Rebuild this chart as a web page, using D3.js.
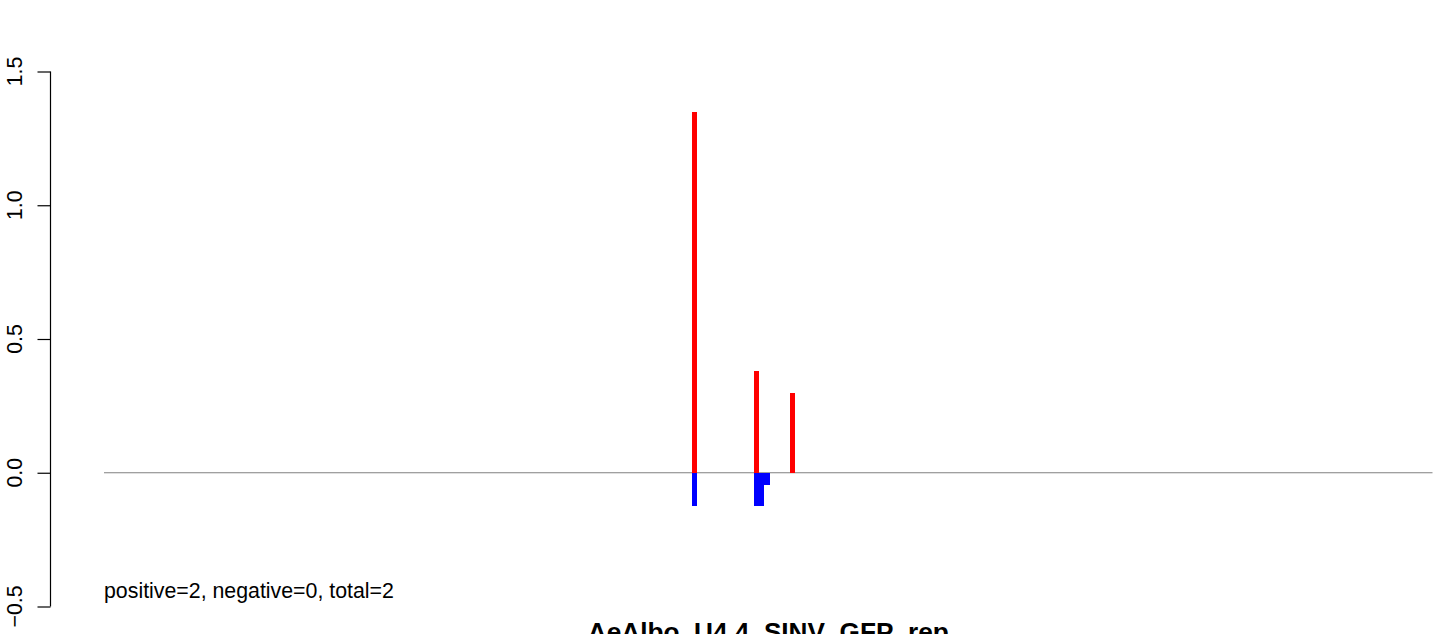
<!DOCTYPE html>
<html>
<head>
<meta charset="utf-8">
<script src="https://cdn.jsdelivr.net/npm/d3@7"></script>
<style>
  html, body { margin: 0; padding: 0; background: #ffffff; overflow: hidden; }
  svg { display: block; font-family: "Liberation Sans", Arial, Helvetica, sans-serif; }
</style>
</head>
<body>
<svg id="chart" width="1444" height="634"></svg>
<script>
// ---- data ----
const positivePositions = [115, 127, 134];
const positiveValues    = [1.35, 0.38, 0.30];
const negativePositions = [115, 127, 128, 129];
const negativeValues    = [-0.126, -0.126, -0.126, -0.044];
const xDomain = [1, 258.5];
const yTicks = [-0.5, 0, 0.5, 1.0, 1.5];
const yDomain = [-0.5, 1.5];
const summaryText = "positive=2, negative=0, total=2";
const titleText = "AeAlbo_U4.4_SINV_GFP_rep";

// ---- layout ----
const svg = d3.select("#chart");
const x = d3.scaleLinear().domain(xDomain).range([104, 1432.5]);
const y = d3.scaleLinear().domain(yDomain).range([606.5, 71.5]);

// zero line
svg.append("line")
  .attr("x1", x(xDomain[0])).attr("x2", x(xDomain[1]))
  .attr("y1", y(0)).attr("y2", y(0))
  .attr("stroke", "#808080").attr("stroke-width", 1);

// positive bars
svg.append("g").attr("shape-rendering", "crispEdges").selectAll("rect")
  .data(positivePositions.map((p, i) => ({p, v: positiveValues[i]})))
  .join("rect")
  .attr("x", d => Math.round(x(d.p)))
  .attr("width", d => Math.round(x(d.p + 1)) - Math.round(x(d.p)))
  .attr("y", d => y(d.v))
  .attr("height", d => y(0) - y(d.v))
  .attr("fill", "#ff0000");

// negative bars
svg.append("g").attr("shape-rendering", "crispEdges").selectAll("rect")
  .data(negativePositions.map((p, i) => ({p, v: negativeValues[i]})))
  .join("rect")
  .attr("x", d => Math.round(x(d.p)))
  .attr("width", d => Math.round(x(d.p + 1)) - Math.round(x(d.p)))
  .attr("y", y(0) + 0.5)
  .attr("height", d => y(d.v) - y(0) - 0.5)
  .attr("fill", "#0000ff");

// y axis (R style)
const axis = d3.axisLeft(y).tickValues(yTicks).tickSize(13).tickFormat("");
const gA = svg.append("g").attr("transform", "translate(50.5,0)").call(axis);
gA.select(".domain").attr("stroke", "#000").attr("stroke-width", 1.2)
  .attr("d", `M0,${y(yDomain[0])}V${y(yDomain[1])}`);
gA.selectAll(".tick line").attr("stroke", "#000").attr("stroke-width", 1.2);

const fmt = d3.format(".1f");
svg.append("g").selectAll("text")
  .data(yTicks)
  .join("text")
  .attr("transform", d => `translate(21.5,${y(d)}) rotate(-90)`)
  .attr("text-anchor", "middle")
  .attr("font-size", "21.33px")
  .attr("fill", "#000")
  .text(d => fmt(d));

// summary text
svg.append("text")
  .attr("x", 104).attr("y", 598)
  .attr("font-size", "21.33px")
  .attr("fill", "#000")
  .text(summaryText);

// title (bottom, clipped as in the reference)
svg.append("text")
  .attr("x", (x(xDomain[0]) + x(xDomain[1])) / 2)
  .attr("y", 641)
  .attr("text-anchor", "middle")
  .attr("font-size", "26.2px")
  .attr("font-weight", "bold")
  .attr("fill", "#000")
  .text(titleText);
</script>
</body>
</html>
